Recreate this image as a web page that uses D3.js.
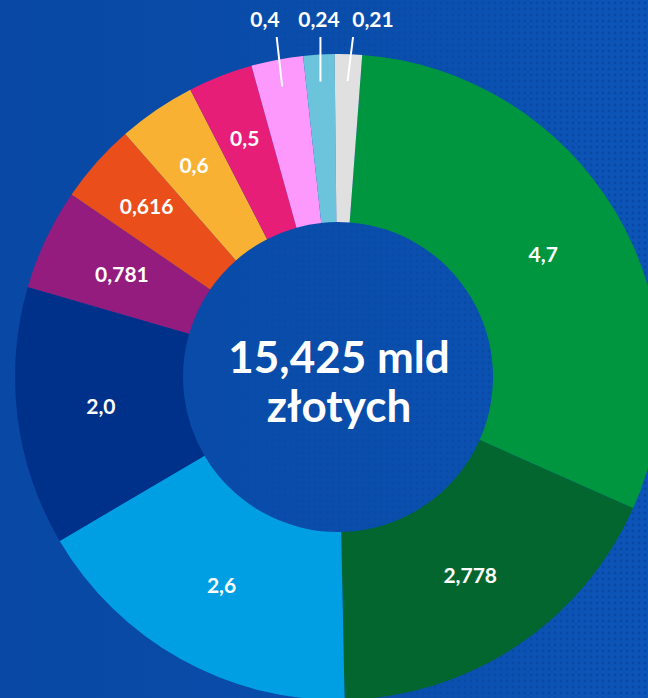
<!DOCTYPE html>
<html>
<head>
<meta charset="utf-8">
<script src="https://cdn.jsdelivr.net/npm/d3@7"></script>
<style>
  html, body { margin: 0; padding: 0; background: #0a4aa8; }
  svg { display: block; }
  .label { font-family: Lato, "Open Sans", sans-serif; font-weight: 700; fill: #fff; }
</style>
</head>
<body>
<script>
// values as printed on the chart (mld zł)
var labels = ["4,7", "2,778", "2,6", "2,0", "0,781", "0,616", "0,6", "0,5", "0,4", "0,24", "0,21"]
var values = [4.7, 2.778, 2.6, 2.0, 0.781, 0.616, 0.6, 0.5, 0.4, 0.24, 0.21]
var colors = ["#00963f", "#03662f", "#009fe3", "#00318a", "#941c7f", "#e94e1b",
              "#f8b133", "#e61e78", "#fd98fd", "#6cc4dc", "#e0e0e0"]
var outside = ["0,4", "0,24", "0,21"]
var centerLines = ["15,425 mld", "złotych"]

var width = 648, height = 698
var cx = 338, cy = 377
var outerR = 323, innerR = 155
var offset = 4.3 * Math.PI / 180

var svg = d3.select("body").append("svg")
  .attr("width", width)
  .attr("height", height)

var defs = svg.append("defs")

var bgGrad = defs.append("linearGradient")
  .attr("id", "bgGrad")
  .attr("x1", "0").attr("x2", "1").attr("y1", "0").attr("y2", "0")
bgGrad.append("stop").attr("offset", "0").attr("stop-color", "#0948a5")
bgGrad.append("stop").attr("offset", "0.5").attr("stop-color", "#0a4daa")
bgGrad.append("stop").attr("offset", "1").attr("stop-color", "#0c55b8")

// halftone dots on the right side
var dots = defs.append("pattern")
  .attr("id", "dots")
  .attr("width", 6).attr("height", 6)
  .attr("patternUnits", "userSpaceOnUse")
dots.append("circle")
  .attr("cx", 3).attr("cy", 3).attr("r", 1.4)
  .attr("fill", "#073e95")

var fade = defs.append("linearGradient")
  .attr("id", "fade")
  .attr("x1", "0").attr("x2", "1").attr("y1", "0").attr("y2", "0")
fade.append("stop").attr("offset", "0.35").attr("stop-color", "#fff").attr("stop-opacity", 0)
fade.append("stop").attr("offset", "1").attr("stop-color", "#fff").attr("stop-opacity", 0.6)
defs.append("mask").attr("id", "fadeMask")
  .append("rect").attr("width", width).attr("height", height).attr("fill", "url(#fade)")

svg.append("rect").attr("width", width).attr("height", height).attr("fill", "url(#bgGrad)")
svg.append("rect").attr("width", width).attr("height", height)
  .attr("fill", "url(#dots)")
  .attr("mask", "url(#fadeMask)")

var pie = d3.pie()
  .sort(null)
  .startAngle(offset)
  .endAngle(offset + 2 * Math.PI)

var arcs = pie(values)

var arc = d3.arc()
  .innerRadius(innerR)
  .outerRadius(outerR)

var g = svg.append("g")
  .attr("transform", "translate(" + cx + "," + cy + ")")

g.selectAll("path")
  .data(arcs)
  .enter()
  .append("path")
  .attr("d", arc)
  .attr("fill", function(d, i) { return colors[i] })

function polar(a, r) {
  return [Math.sin(a) * r, -Math.cos(a) * r]
}

// labels inside the ring
var inside = arcs.filter(function(d, i) { return outside.indexOf(labels[i]) < 0 })
g.selectAll("text.inner")
  .data(inside)
  .enter()
  .append("text")
  .attr("class", "label inner")
  .attr("text-anchor", "middle")
  .attr("dy", "0.35em")
  .style("font-size", "21px")
  .attr("transform", function(d) {
    var mid = (d.startAngle + d.endAngle) / 2
    var span = (d.endAngle - d.startAngle) * 180 / Math.PI
    var r = span < 16 ? 256 : (innerR + outerR) / 2
    var p = polar(mid, r)
    return "translate(" + p[0] + "," + p[1] + ")"
  })
  .text(function(d) { return labels[d.index] })

// small slices: labels above with leader lines
var small = arcs.filter(function(d, i) { return outside.indexOf(labels[i]) >= 0 })
small.forEach(function(d, k) {
  var mid = (d.startAngle + d.endAngle) / 2
  var p = polar(mid, 296)
  var topX = p[0] + (k - 1) * 5.5
  var topY = 37 - cy
  g.append("line")
    .attr("x1", p[0]).attr("y1", p[1])
    .attr("x2", topX).attr("y2", topY)
    .attr("stroke", "#fff")
    .attr("stroke-width", 2)
  g.append("text")
    .attr("class", "label")
    .attr("text-anchor", "middle")
    .attr("x", -19 + (k - 1) * 54)
    .attr("y", 27 - cy)
    .style("font-size", "21px")
    .text(labels[d.index])
})

// total in the middle
g.selectAll("text.center")
  .data(centerLines)
  .enter()
  .append("text")
  .attr("class", "label center")
  .attr("text-anchor", "middle")
  .attr("x", 1)
  .attr("y", function(d, i) { return -4 + i * 49 })
  .style("font-size", "44px")
  .text(function(d) { return d })
</script>
</body>
</html>
